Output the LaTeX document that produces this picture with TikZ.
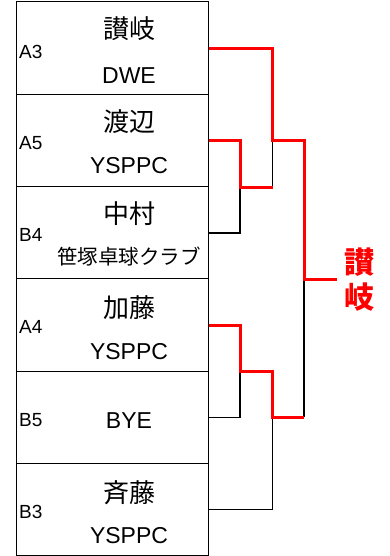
\documentclass[tikz,border=0pt]{standalone}
\usepackage{fontspec}
\setmainfont{Liberation Sans}
\newfontfamily\cjk{Noto Sans CJK JP}
\begin{document}
\begin{tikzpicture}[x=1pt,y=-1pt,
  box/.style={draw=black,line width=1pt,minimum width=192pt,minimum height=92.3pt,inner sep=0pt,anchor=north west},
  seed/.style={anchor=west,inner sep=0pt,font=\fontsize{19}{19}\selectfont},
  pname/.style={inner sep=0pt,font=\cjk\fontsize{26}{26}\selectfont},
  team/.style={inner sep=0pt,font=\fontsize{23}{23}\selectfont},
  jteam/.style={inner sep=0pt,font=\cjk\fontsize{20.5}{20.5}\selectfont},
  win/.style={draw=red,line width=3pt},
  lose/.style={draw=black,line width=1.5pt},
  winner/.style={inner sep=0pt,text=red,font=\cjk\bfseries\fontsize{30}{35}\selectfont,align=center}]
\useasboundingbox (0,0) rectangle (390,556);
% boxes
\node[box] (a3) at (16,1.5) {};
\node[box] (a5) at (16,93.8) {};
\node[box] (b4) at (16,186.1) {};
\node[box] (a4) at (16,278.4) {};
\node[box] (b5) at (16,370.7) {};
\node[box] (b3) at (16,463) {};
% texts
\node[seed] (sa3) at (19,52) {A3};
\node[pname] (na3) at (129,29) {讃岐};
\node[team] (ta3) at (129,76) {DWE};
\node[seed] (sa5) at (19,143) {A5};
\node[pname] (na5) at (129,122) {渡辺};
\node[team] (ta5) at (129,166) {YSPPC};
\node[seed] (sb4) at (19,235) {B4};
\node[pname] (nb4) at (129,214) {中村};
\node[jteam] (tb4) at (129,257) {笹塚卓球クラブ};
\node[seed] (sa4) at (19,327) {A4};
\node[pname] (na4) at (129,308) {加藤};
\node[team] (ta4) at (129,352) {YSPPC};
\node[seed] (sb5) at (19,420) {B5};
\node[team] (tb5) at (129,421) {BYE};
\node[seed] (sb3) at (19,512) {B3};
\node[pname] (nb3) at (129,493) {斉藤};
\node[team] (tb3) at (129,536) {YSPPC};
% joints
\coordinate (j1) at (240,187);
\coordinate (j2) at (272.5,141);
\coordinate (j3) at (240,371);
\coordinate (j4) at (272.5,417);
\coordinate (j5) at (304,279);
\coordinate (fin) at (337,279);
% losing lines
\draw[lose] (b4.east) -| (j1);
\draw[lose] (j2) -- (j2 |- j1);
\draw[lose] (b5.east) -| (j3);
\draw[lose] (b3.east) -| (j4);
\draw[lose] (j5) -- (j5 |- j4);
% winning lines
\draw[win,line join=miter] (a5.east) -| (j1) -- (j2 |- j1);
\draw[win,line join=miter] (a3.east) -| (j2) -| (j5) -- (fin);
\draw[win,line join=miter] (a4.east) -| (j3) -| (j4) -- (j5 |- j4);
\node[winner] (w) at (359,280) {讃\\岐};
\end{tikzpicture}
\end{document}
